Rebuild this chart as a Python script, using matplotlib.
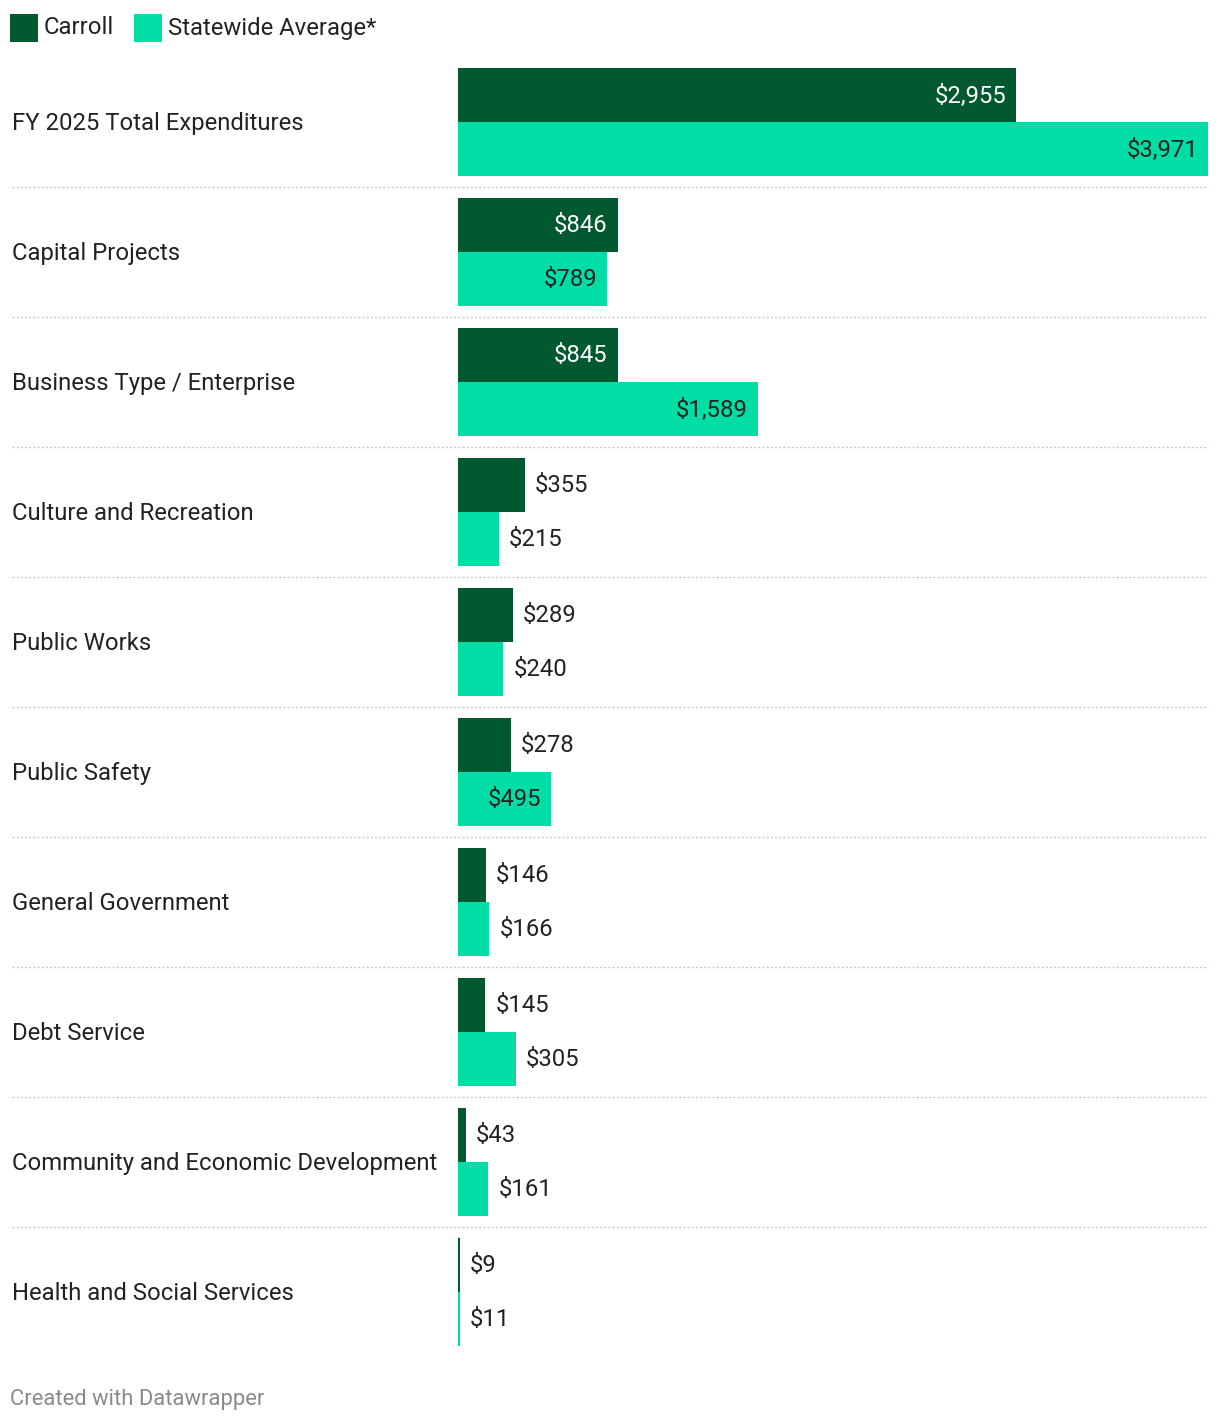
import matplotlib.pyplot as plt
from matplotlib.patches import Rectangle
from matplotlib.lines import Line2D
from matplotlib.transforms import blended_transform_factory

plt.rcParams['font.family'] = ['Roboto', 'DejaVu Sans']

# data
categories = [
    'FY 2025 Total Expenditures',
    'Capital Projects',
    'Business Type / Enterprise',
    'Culture and Recreation',
    'Public Works',
    'Public Safety',
    'General Government',
    'Debt Service',
    'Community and Economic Development',
    'Health and Social Services',
]
carroll = [2955, 846, 845, 355, 289, 278, 146, 145, 43, 9]
statewide = [3971, 789, 1589, 215, 240, 495, 166, 305, 161, 11]
series_names = ['Carroll', 'Statewide Average*']

DARK = '#02592f'
LIGHT = '#00dea6'
TEXT = '#222222'

W, H = 1220, 1424
fig = plt.figure(figsize=(W / 100, H / 100), dpi=100)

# plot area in pixels
x0, x1 = 458, 1208
y_top, y_bot = 57, 1357
ax = fig.add_axes([x0 / W, 1 - y_bot / H, (x1 - x0) / W, (y_bot - y_top) / H])
n = len(categories)
xmax = max(statewide)
ax.set_xlim(0, xmax)
ax.set_ylim(n, 0)
ax.axis('off')

bh = 54 / 130
px_per_unit = (x1 - x0) / xmax
fs = 17.2

for i, cat in enumerate(categories):
    c = i + 0.5
    for val, yc, col, in_col in [(carroll[i], c - bh / 2, DARK, 'white'),
                                  (statewide[i], c + bh / 2, LIGHT, TEXT)]:
        ax.barh(yc, val, height=bh, color=col, linewidth=0)
        label = f'${val:,}'
        if val * px_per_unit > 85:
            ax.annotate(label, (val, yc), xytext=(-10, -1), textcoords='offset pixels',
                        ha='right', va='center', fontsize=fs, color=in_col)
        else:
            ax.annotate(label, (val, yc), xytext=(10, -1), textcoords='offset pixels',
                        ha='left', va='center', fontsize=fs, color=TEXT)
    # category label
    fig.text(12 / W, 1 - (y_top + 130 * c + 1.5) / H, cat, ha='left', va='center',
             fontsize=fs, color=TEXT)

# dotted separators
trans = blended_transform_factory(fig.transFigure, ax.transData)
for i in range(1, n):
    fig.add_artist(Line2D([12 / W, x1 / W], [i, i], transform=trans,
                          color='#c8c8c8', linewidth=1, linestyle=(0, (1.5, 1.5))))

# legend
lx = 10
for name, col in zip(series_names, [DARK, LIGHT]):
    fig.add_artist(Rectangle((lx / W, 1 - 42 / H), 28 / W, 28 / H,
                             transform=fig.transFigure, color=col, linewidth=0))
    t = fig.text((lx + 34) / W, 1 - 28 / H, name, ha='left', va='center',
                 fontsize=fs, color=TEXT)
    fig.canvas.draw()
    bb = t.get_window_extent()
    lx = bb.x1 + 20

# footer
fig.text(10 / W, 1 - 1400 / H, 'Created with Datawrapper', ha='left', va='center',
         fontsize=15.8, color='#8a8a8a')

fig.savefig('out.png', dpi=100)
